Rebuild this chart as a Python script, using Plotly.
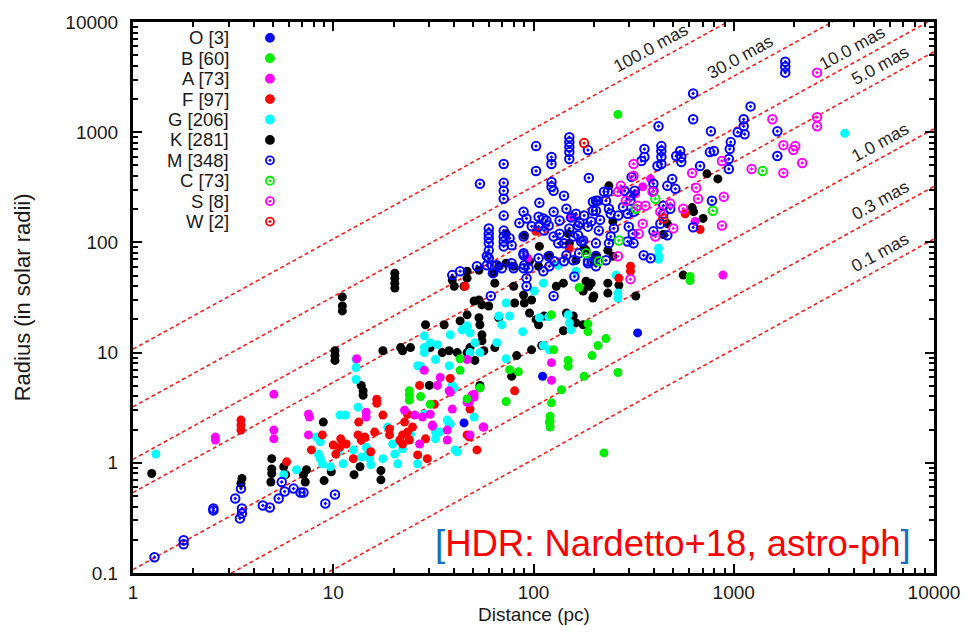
import math
import plotly.graph_objects as go

# Angular diameter (mas) = K_MAS * radius (R_sun) / distance (pc)
K_MAS = 9.305

# ---- stars per spectral class: (distance [pc], radius [R_sun]) ----
stars_O = [(331, 15.1), (111, 6.1), (45, 2.3)]

stars_B = [(264, 1450), (187, 18.2), (187, 15.5), (230, 13.4), (210, 11.6), (196, 9.4),
           (149, 8.5), (149, 7.5), (264, 6.6), (179, 6.1), (138, 4.6), (123, 3.5),
           (121, 2.65), (121, 2.39), (121, 2.11), (73, 3.6), (76, 7.0), (84, 6.7),
           (126, 10.6), (43, 8.8), (43, 6.9), (27.3, 4.0), (225, 1.23), (30.5, 3.4),
           (123, 22), (169, 39), (24, 4.5), (24, 4.1), (24, 3.7), (46.6, 3.8), (54, 4.8),
           (120, 2.34), (605, 49), (605, 45)]

stars_A = [(2.58, 1.71), (2.58, 1.61), (5.05, 1.98), (5.05, 1.65), (7.52, 2.76), (7.52, 1.79),
           (5.05, 4.19), (7.6, 2.6), (13.1, 8.8), (14.6, 2.88), (14.6, 2.6), (22.7, 3.0),
           (25.5, 2.71), (27.9, 2.6), (30.5, 2.76), (39.3, 3.07), (50.5, 4.19), (50.5, 3.93),
           (46.6, 3.54), (31.3, 2.2), (27, 1.48), (37.1, 1.61), (48.2, 1.79), (56, 2.11),
           (33.1, 5.04), (38.4, 4.36), (123, 8.1), (123, 5.6), (46.6, 8.65), (34.2, 5.95),
           (28.5, 6.9), (47.7, 3.54), (49.3, 4.1), (37.9, 4.5), (31.3, 2.15), (37.1, 1.98),
           (56.5, 2.11), (883, 50.5), (351, 320), (156, 171), (93.4, 71.8), (641, 155),
           (324, 276), (384, 377)]

stars_F = [(3.46, 2.44), (3.46, 2.2), (3.46, 1.98), (5.85, 1.02), (7.78, 1.31), (8.82, 1.79),
           (16.5, 3.77), (16.5, 3.47), (13.4, 2.34), (17.7, 2.71), (10.9, 1.65), (10.8, 1.39),
           (11.6, 1.48), (13.8, 1.61), (14.4, 1.71), (16.1, 1.9), (19.1, 2.03), (19.1, 1.79),
           (21.5, 1.61), (22.2, 1.79), (23.5, 1.9), (23.5, 2.76), (22.7, 2.34), (24.9, 2.11),
           (26.4, 1.18), (29.5, 1.09), (12.6, 1.09), (13.3, 1.79), (28.9, 1.65), (46.6, 1.79),
           (48.2, 3.07), (52.2, 1.31), (80.5, 4.5), (32, 3.4), (27, 5.04), (22.2, 1.48),
           (10, 1.45), (10.3, 1.2), (24, 1.61), (15.4, 1.26), (45.5, 40), (38.4, 5.83),
           (47.7, 1.72), (305, 60.8), (305, 54.8), (267, 47.4), (679, 131), (572, 182),
           (151, 88), (103, 126)]

stars_G = [(1.3, 1.2), (8.24, 1.71), (8.62, 1.55), (8.43, 1.2), (8.62, 1.09), (8.82, 0.98),
           (6.56, 0.865), (5.66, 0.78), (10.6, 1.26), (10.8, 2.71), (11.5, 2.71), (13.3, 3.2),
           (14.6, 1.39), (14.9, 1.2), (15.2, 1.09), (15.4, 0.96), (17.7, 1.09), (19.8, 1.48),
           (21, 0.98), (26.4, 0.98), (33.9, 1.9), (39.3, 5.04), (38.4, 2.25), (13, 8.65),
           (13, 7.3), (13, 5.7), (28.5, 11.1), (28.5, 10), (26.4, 7.6), (28.5, 2.76),
           (37.1, 2.44), (50.5, 2.6), (32.4, 1.9), (32.4, 1.65), (20.3, 1.2), (11.2, 0.98),
           (9.67, 0.92), (12.6, 1.31), (13.8, 1.13), (24.3, 1.82), (40.6, 1.31), (30.5, 12.3),
           (33.1, 11.8), (28.5, 14.2), (38.4, 14.5), (44, 16.1), (46.6, 17.5), (48.2, 15.1),
           (51, 12.3), (48.2, 10), (54, 10), (65.6, 12.3), (67.1, 21.5), (69.5, 17.9),
           (76, 21.5), (73, 28.2), (32.4, 8.65), (37.9, 7.6), (27.3, 7.5), (88.3, 15.5),
           (107, 20.7), (119, 21.1), (149, 22), (151, 18.6), (154, 16.1), (73, 8.8),
           (120, 10.6), (112, 11.6), (101, 36.2), (112, 42.7), (264, 34.7), (264, 31.3),
           (258, 50.5), (37.9, 2.2), (40.2, 4.8), (41.6, 1.26), (133, 62), (163, 54.8),
           (421, 88.3), (421, 76.4), (421, 70.3), (3585, 979), (18.7, 2.11), (22.2, 1.34)]

stars_K = [(1.24, 0.80), (3.5, 0.72), (3.46, 0.65), (4.93, 1.09), (4.93, 0.88), (4.93, 0.80),
           (4.88, 0.67), (5.66, 0.92), (5.79, 0.78), (7.1, 0.78), (7.35, 0.865), (7.25, 0.67),
           (8.92, 2.34), (9.0, 0.69), (9.78, 0.83), (12.7, 0.78), (13.6, 0.92), (13.8, 5.04),
           (14.1, 4.5), (14.1, 4.1), (17.3, 0.85), (17.3, 0.70), (30.2, 5.04), (54, 5.04),
           (54, 4.8), (20.3, 52.6), (20.3, 47.4), (20.3, 42.7), (20.3, 38.5), (11.1, 32),
           (11.1, 26.5), (11.1, 23.9), (10.2, 10.4), (10.2, 9.4), (10.2, 8.5), (17.7, 10.4),
           (21.7, 11.1), (22.2, 10.4), (24.3, 11.1), (28.9, 17.9), (35.8, 17.9), (39.3, 45.5),
           (46.6, 47.4), (45, 40), (40.2, 40), (43, 19.4), (46.6, 22), (53.4, 20.7),
           (54, 17.9), (55.3, 14.5), (55.3, 12.8), (56.5, 10.4), (48.2, 11.1), (46.6, 10),
           (41.6, 10), (35, 10), (37.9, 10.4), (30.5, 11.1), (51, 8.5), (53.4, 30),
           (55.3, 27.1), (59.8, 26.5), (50.5, 29.4), (64.1, 42.7), (67.1, 20.7), (64.1, 11.1),
           (79.6, 40), (80.5, 28.2), (82.4, 9.4), (89.2, 33.3), (90, 28.2), (97.8, 30),
           (95.5, 22.9), (97.8, 10.6), (103, 19.9), (106, 17.9), (113, 21.5), (110, 11.6),
           (130, 40), (141, 42.7), (146, 22.9), (158, 21.5), (141, 15.8), (163, 18.6),
           (177, 17.9), (183, 44.5), (189, 40), (200, 32.6), (235, 42.7), (324, 32.6),
           (77.8, 6.1), (63.4, 52.6), (67.1, 60.8), (73, 64.7), (79.6, 60.8), (107, 92),
           (120, 76.4), (149, 120), (151, 98), (179, 88.3), (200, 67.4), (106, 60.8),
           (46.6, 54.8), (53.4, 56), (238, 326), (735, 419), (833, 377), (620, 207),
           (630, 190), (703, 165), (445, 118), (466, 148), (163, 68.8), (183, 84.7),
           (205, 76.4), (235, 84.7), (249, 74.8), (267, 41), (235, 34.7), (194, 42.7),
           (177, 36.2), (198, 31.3), (559, 50.5), (249, 155), (95.5, 67.4), (90, 116),
           (73, 120)]

stars_M = [(1.28, 0.139), (1.79, 0.198), (1.79, 0.182), (2.52, 0.385), (2.52, 0.37),
           (3.24, 0.474), (3.46, 0.583), (3.5, 0.385), (3.5, 0.347), (3.42, 0.313),
           (4.45, 0.41), (4.82, 0.393), (5.34, 0.474), (5.53, 0.67), (5.72, 0.548),
           (6.34, 0.583), (6.86, 0.537), (7.1, 0.537), (9.13, 0.427), (10.2, 0.515),
           (54, 340), (71, 515), (71, 347), (71, 294), (71, 249), (71, 175), (59.8, 134),
           (59.8, 120), (59.8, 109), (59.8, 98), (59.8, 84.7), (59.8, 71.8), (71, 128),
           (71, 113), (71, 102), (71, 92), (76, 109), (77.8, 94), (89.2, 113), (89.2, 79.6),
           (103, 748), (103, 445), (107, 229), (123, 595), (123, 515), (123, 354), (123, 320),
           (126, 294), (151, 902), (151, 813), (151, 733), (151, 660), (151, 571), (187, 688),
           (189, 385), (142, 265), (146, 202), (126, 190), (89.2, 190), (92.3, 165), (116, 158),
           (135, 158), (163, 182), (179, 175), (187, 139), (167, 116), (142, 98), (133, 98),
           (65.6, 62), (52.2, 60.8), (77.8, 64.7), (90, 62), (119, 74.8), (198, 234),
           (198, 194), (106, 171), (106, 139), (113, 128), (126, 113), (154, 168), (205, 239),
           (421, 1132), (627, 1309), (627, 2246), (769, 1021), (1121, 1309), (1213, 1715),
           (1047, 1000), (1121, 1132), (1133, 959), (966, 813), (955, 703), (945, 571),
           (945, 464), (760, 660), (796, 674), (679, 494), (1651, 608), (1651, 1021),
           (358, 703), (358, 595), (435, 748), (435, 674), (435, 595), (435, 515), (416, 494),
           (540, 674), (547, 595), (547, 537), (516, 608), (346, 548), (309, 393), (397, 340),
           (397, 294), (466, 326), (493, 377), (511, 306), (320, 294), (285, 294), (305, 265),
           (305, 239), (225, 288), (235, 288), (230, 239), (238, 202), (210, 239), (205, 194),
           (167, 142), (194, 155), (243, 182), (295, 182), (316, 190), (299, 139), (313, 120),
           (316, 98), (295, 102), (252, 134), (212, 128), (177, 104), (205, 98), (205, 74.8),
           (187, 64.7), (205, 60.8), (169, 79.6), (243, 113), (238, 98), (355, 76.4),
           (384, 71.8), (445, 215), (482, 202), (445, 182), (430, 148), (397, 126), (466, 116),
           (627, 137), (778, 239), (1808, 4360), (1808, 3930), (1808, 3470), (62, 62),
           (62.7, 52.6), (69.5, 58.3), (79.6, 58.3), (89.2, 58.3), (92.3, 47.4), (92.3, 40),
           (112, 54.8), (120, 60.8), (127, 67.4), (142, 67.4), (160, 49), (158, 68.8),
           (187, 67.4), (126, 32.6), (61.2, 32.6), (58.5, 74.8), (89.2, 76.4), (230, 68.8),
           (43, 54.8), (39.3, 50.5), (112, 165), (119, 142), (151, 134), (158, 113),
           (173, 102), (146, 76.4), (106, 71.8), (94.5, 58.3), (58.5, 62), (85, 150),
           (98, 140), (135, 120), (170, 150), (215, 160), (265, 175), (280, 210)]

stars_C = [(1393, 445), (787, 194), (406, 249), (267, 104), (183, 79.6), (324, 202), (212, 67.4)]

stars_S = [(2606, 3470), (2606, 1365), (2606, 1132), (1560, 1309), (1769, 763), (2028, 748),
           (1983, 688), (2197, 526), (1769, 427), (1228, 464), (873, 548), (620, 427),
           (649, 313), (663, 249), (892, 260), (873, 142), (316, 515), (316, 402), (273, 326),
           (264, 288), (289, 239), (331, 215), (362, 215), (482, 225), (393, 288), (430, 190),
           (351, 148), (335, 120), (406, 113), (499, 134), (559, 202), (264, 74.8), (305, 46.4)]

stars_W = [(179, 796), (445, 165)]

# legend label, data, filled?, colour
CLASSES = [
    ("O [3]", stars_O, True, "#0000ff"),
    ("B [60]", stars_B, True, "#00ee00"),
    ("A [73]", stars_A, True, "#ff00ff"),
    ("F [97]", stars_F, True, "#ff0000"),
    ("G [206]", stars_G, True, "#00ffff"),
    ("K [281]", stars_K, True, "#000000"),
    ("M [348]", stars_M, False, "#0000ff"),
    ("C [73]", stars_C, False, "#00ee00"),
    ("S [8]", stars_S, False, "#ff00ff"),
    ("W [2]", stars_W, False, "#ff0000"),
]
DRAW_ORDER = ["K [281]", "G [206]", "F [97]", "A [73]", "B [60]", "O [3]",
              "M [348]", "C [73]", "S [8]", "W [2]"]

# iso-angular-diameter lines (mas) and where their labels sit (distance, pc)
ISO_MAS = [100.0, 30.0, 10.0, 5.0, 1.0, 0.3, 0.1]
ISO_LABEL_DIST = [384, 1071, 3882, 5405, 5405, 5405, 5405]

X_TICKS = [1, 10, 100, 1000, 10000]
Y_TICKS = [0.1, 1, 10, 100, 1000, 10000]

# ---- layout geometry (pixels) ----
W, H = 972, 636
ML, MR, MT, MB = 133, 32, 17, 63
PW, PH = W - ML - MR, H - MT - MB
XDEC, YDEC = 4, 5
SLOPE_DEG = math.degrees(math.atan((PH / YDEC) / (PW / XDEC)))

FONT = "Liberation Sans, Arial, Helvetica, sans-serif"


def marker_style(filled, colour):
    if filled:
        return dict(symbol="circle", size=9, color=colour, line=dict(width=0))
    return dict(symbol="circle-open-dot", size=8.5, color=colour, line=dict(width=2, color=colour))


fig = go.Figure()

# dashed lines of constant angular diameter
for mas in ISO_MAS:
    xs = [X_TICKS[0], X_TICKS[-1]]
    ys = [mas * d / K_MAS for d in xs]
    fig.add_trace(go.Scatter(x=xs, y=ys, mode="lines", hoverinfo="skip", showlegend=False,
                             line=dict(color="#ff1a1a", width=1.6, dash="4px,3px")))

by_name = {c[0]: c for c in CLASSES}
for name in DRAW_ORDER:
    label, pts, filled, colour = by_name[name]
    fig.add_trace(go.Scatter(x=[p[0] for p in pts], y=[p[1] for p in pts], mode="markers",
                             name=label, showlegend=False, marker=marker_style(filled, colour)))

# legend drawn gnuplot-style: right-aligned label, symbol to the right
LEG_TOP, LEG_STEP = 33, 20.6
LEG_TEXT_X, LEG_SYM_X = 232, 271
leg_x, leg_y, leg_sym, leg_col = [], [], [], []
annotations = []
for i, (label, pts, filled, colour) in enumerate(CLASSES):
    yf = 1 - (LEG_TOP + i * LEG_STEP - MT) / PH
    leg_x.append((LEG_SYM_X - ML) / PW)
    leg_y.append(yf)
    leg_sym.append("circle" if filled else "circle-open-dot")
    leg_col.append(colour)
    annotations.append(dict(xref="paper", yref="paper", x=(LEG_TEXT_X - ML) / PW, y=yf,
                            text=label, showarrow=False, xanchor="right", yanchor="middle",
                            font=dict(family=FONT, size=18.5, color="#1a1a1a")))
fig.add_trace(go.Scatter(x=leg_x, y=leg_y, xaxis="x2", yaxis="y2", mode="markers",
                         showlegend=False, hoverinfo="skip",
                         marker=dict(symbol=leg_sym, size=8, color=leg_col,
                                     line=dict(width=1.8, color=leg_col))))

# labels along the iso-diameter lines
for mas, d in zip(ISO_MAS, ISO_LABEL_DIST):
    annotations.append(dict(x=math.log10(d), y=math.log10(mas * d / K_MAS), xref="x", yref="y",
                            text=f"{mas:.1f} mas", showarrow=False, textangle=-SLOPE_DEG,
                            yshift=16, font=dict(family=FONT, size=17.5, color="#262626")))

# source tag
annotations.append(dict(xref="paper", yref="paper", x=(677 - ML) / PW, y=1 - (543 - MT) / PH,
                        showarrow=False, xanchor="center", yanchor="middle",
                        text="<span style='color:#1570c4'>[</span>HDR: Nardetto+18, astro-ph"
                             "<span style='color:#1570c4'>]</span>",
                        font=dict(family=FONT, size=36.5, color="#ff0000")))

# axis titles
annotations.append(dict(xref="paper", yref="paper", x=0.5, y=1 - (615 - MT) / PH,
                        text="Distance (pc)", showarrow=False, yanchor="middle",
                        font=dict(family=FONT, size=19, color="#1a1a1a")))
annotations.append(dict(xref="paper", yref="paper", x=(22 - ML) / PW, y=1 - (295 - MT) / PH,
                        text="Radius (in solar radii)", showarrow=False, textangle=-90,
                        xanchor="center", yanchor="middle",
                        font=dict(family=FONT, size=22, color="#1a1a1a")))


def minor_vals(lo, hi):
    return [m * 10 ** k for k in range(lo, hi) for m in range(2, 10)]


axis_common = dict(type="log", showgrid=False, zeroline=False, showline=True, linewidth=3,
                   linecolor="black", mirror="allticks", ticks="inside", ticklen=9,
                   tickwidth=2, tickcolor="black",
                   tickfont=dict(family=FONT, size=19, color="#1a1a1a"))

fig.update_layout(
    width=W, height=H, margin=dict(l=ML, r=MR, t=MT, b=MB),
    paper_bgcolor="white", plot_bgcolor="white", showlegend=False,
    xaxis=dict(axis_common, range=[0, XDEC], tickmode="array", tickvals=X_TICKS,
               ticktext=[str(v) for v in X_TICKS], ticklabelstandoff=0,
               minor=dict(tickmode="array", tickvals=minor_vals(0, 4), ticks="inside",
                          ticklen=5, tickwidth=1.5, tickcolor="black", showgrid=False)),
    yaxis=dict(axis_common, range=[-1, 4], tickmode="array", tickvals=Y_TICKS,
               ticktext=["0.1", "1", "10", "100", "1000", "10000"], ticklabelstandoff=8,
               minor=dict(tickmode="array", tickvals=minor_vals(-1, 4), ticks="inside",
                          ticklen=5, tickwidth=1.5, tickcolor="black", showgrid=False)),
    xaxis2=dict(overlaying="x", range=[0, 1], visible=False, fixedrange=True),
    yaxis2=dict(overlaying="y", range=[0, 1], visible=False, fixedrange=True),
    annotations=annotations,
)

fig.write_html("out.html")
